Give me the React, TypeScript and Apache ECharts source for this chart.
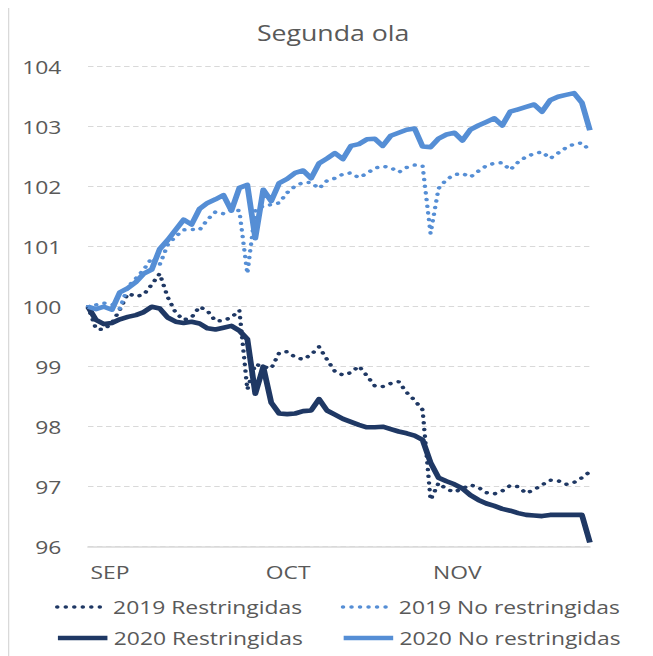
import React, { useEffect, useRef } from "react";
import * as echarts from "echarts";

// ---- Data (business days Sep 1 – Nov 30, 2020; Oct 12 holiday) ----
const START_DATE = "2020-09-01";
const END_DATE = "2020-11-30";
const HOLIDAYS = ["2020-10-12"];
const MONTH_LABELS: Record<number, string> = { 8: "SEP", 9: "OCT", 10: "NOV" };
const Y_MIN = 96;
const Y_MAX = 104;
const Y_STEP = 1;

const restr2019 = [
  100.0, 99.63, 99.62, 99.73, 99.95, 100.22, 100.17, 100.2, 100.37, 100.55,
  100.16, 99.9, 99.78, 99.82, 100.0, 99.93, 99.76, 99.77, 99.82, 99.94,
  98.62, 99.04, 99.0, 98.97, 99.23, 99.25, 99.16, 99.12, 99.2, 99.33,
  99.12, 98.92, 98.86, 98.9, 99.01, 98.85, 98.68, 98.67, 98.72, 98.75,
  98.57, 98.44, 98.28, 96.78, 97.06, 96.96, 96.91, 96.97, 97.03, 96.99,
  96.9, 96.88, 96.93, 97.02, 97.0, 96.89, 96.95, 97.03, 97.11, 97.1,
  97.04, 97.07, 97.15, 97.25,
];

const noRestr2019 = [
  100.0, 100.03, 100.06, 100.04, 99.97, 100.33, 100.47, 100.62, 100.81, 100.7,
  101.03, 101.17, 101.28, 101.29, 101.28, 101.45, 101.58, 101.55, 101.62, 101.6,
  100.55, 101.6, 101.68, 101.7, 101.73, 101.9, 102.01, 102.07, 102.07, 101.97,
  102.1, 102.14, 102.21, 102.23, 102.15, 102.22, 102.31, 102.34, 102.32, 102.24,
  102.32, 102.36, 102.35, 101.22, 101.97, 102.12, 102.2, 102.22, 102.16, 102.26,
  102.35, 102.39, 102.4, 102.28, 102.41, 102.5, 102.55, 102.58, 102.47, 102.56,
  102.65, 102.71, 102.73, 102.6,
];

const restr2020 = [
  100.0, 99.78, 99.71, 99.73, 99.79, 99.83, 99.86, 99.91, 100.0, 99.97,
  99.82, 99.75, 99.73, 99.75, 99.72, 99.64, 99.62, 99.65, 99.68, 99.6,
  99.46, 98.55, 99.0, 98.4, 98.22, 98.21, 98.22, 98.26, 98.27, 98.46,
  98.27, 98.2, 98.13, 98.08, 98.03, 97.99, 97.99, 98.0, 97.96, 97.92,
  97.89, 97.85, 97.78, 97.4, 97.15, 97.09, 97.04, 96.97, 96.86, 96.78,
  96.72, 96.68, 96.63, 96.6, 96.56, 96.53, 96.52, 96.51, 96.53, 96.53,
  96.53, 96.53, 96.53, 96.07,
];

const noRestr2020 = [
  100.0, 99.96, 100.0, 99.95, 100.24, 100.31, 100.41, 100.55, 100.62, 100.96,
  101.11, 101.28, 101.45, 101.37, 101.63, 101.73, 101.79, 101.86, 101.6, 101.98,
  102.03, 101.14, 101.95, 101.76, 102.06, 102.13, 102.23, 102.27, 102.14, 102.39,
  102.47, 102.56, 102.46, 102.68, 102.71, 102.79, 102.8, 102.68, 102.85, 102.9,
  102.95, 102.97, 102.67, 102.66, 102.8, 102.87, 102.9, 102.77, 102.95, 103.02,
  103.08, 103.14, 103.02, 103.25, 103.29, 103.33, 103.37, 103.25, 103.44, 103.5,
  103.53, 103.56, 103.4, 102.94,
];

const SERIES_NAMES = [
  "2019 Restringidas",
  "2019 No restringidas",
  "2020 Restringidas",
  "2020 No restringidas",
];

function businessDays(start: string, end: string, holidays: string[]): string[] {
  const out: string[] = [];
  const d = new Date(start + "T00:00:00Z");
  const e = new Date(end + "T00:00:00Z");
  while (d.getTime() <= e.getTime()) {
    const wd = d.getUTCDay();
    const iso = d.toISOString().slice(0, 10);
    if (wd !== 0 && wd !== 6 && !holidays.includes(iso)) out.push(iso);
    d.setUTCDate(d.getUTCDate() + 1);
  }
  return out;
}

const categories = businessDays(START_DATE, END_DATE, HOLIDAYS);

// ---- Layout ----
const SX = 1.27; // horizontal stretch of the reference picture
const W = 645;
const H = 648;
const IW = W / SX;

const DARK = "#1F3864";
const LIGHT = "#558ED5";
const TEXT = "#595959";
const GRID = "#D9D9D9";
const FONT = "Open Sans";
const DOTTED = [0.1, 6.6];
const DOT_W = 3.5;
const SOLID_W = 4.6;

export default function App() {
  const ref = useRef<HTMLDivElement>(null);

  useEffect(() => {
    if (!ref.current) return;
    const chart = echarts.init(ref.current, null, { renderer: "svg", width: IW, height: H });

    const isMonthStart = (i: number) => {
      if (i === 0) return true;
      return categories[i].slice(5, 7) !== categories[i - 1].slice(5, 7);
    };

    const legendBase = {
      orient: "horizontal",
      itemWidth: 39,
      itemHeight: 14,
      padding: 0,
      itemGap: 0,
      itemStyle: { opacity: 0, borderWidth: 0 },
      textStyle: { fontSize: 18, color: TEXT, fontFamily: FONT },
    };
    const dotLegend = { width: DOT_W, type: DOTTED, cap: "round" };
    const solidLegend = { width: SOLID_W, type: "solid", cap: "butt" };

    chart.setOption({
      animation: false,
      title: {
        text: "Segunda ola",
        left: 256,
        textAlign: "center",
        top: 14,
        padding: 0,
        textStyle: { fontSize: 21, fontWeight: "normal", color: TEXT, fontFamily: FONT },
      },
      legend: [
        { ...legendBase, lineStyle: dotLegend, data: [SERIES_NAMES[0]], left: 37, top: 590 },
        { ...legendBase, lineStyle: dotLegend, data: [SERIES_NAMES[1]], left: 262, top: 590 },
        { ...legendBase, lineStyle: solidLegend, data: [SERIES_NAMES[2]], left: 37, top: 621 },
        { ...legendBase, lineStyle: solidLegend, data: [SERIES_NAMES[3]], left: 262, top: 621 },
      ],
      grid: { left: 63, right: 49.7, top: 58.7, bottom: 109.3, containLabel: false },
      xAxis: {
        type: "category",
        data: categories,
        boundaryGap: false,
        axisLine: { show: true, lineStyle: { color: GRID, width: 1.5 } },
        axisTick: { show: false },
        splitLine: { show: false },
        axisLabel: {
          interval: (i: number) => isMonthStart(i),
          formatter: (v: string) => MONTH_LABELS[Number(v.slice(5, 7)) - 1] ?? "",
          align: "left",
          padding: [0, 0, 0, 2],
          margin: 16,
          fontSize: 18,
          color: TEXT,
          fontFamily: FONT,
        },
      },
      yAxis: {
        type: "value",
        min: Y_MIN,
        max: Y_MAX,
        interval: Y_STEP,
        axisLine: { show: false },
        axisTick: { show: false },
        axisLabel: { margin: 21, fontSize: 18, color: TEXT, fontFamily: FONT },
        splitLine: { show: true, lineStyle: { color: GRID, width: 1.2, type: [4.3, 2.8] } },
      },
      graphic: [
        {
          type: "line",
          shape: { x1: 0.5, y1: 0, x2: 0.5, y2: H },
          style: { stroke: GRID, lineWidth: 1 },
        },
      ],
      series: [
        {
          name: SERIES_NAMES[0],
          type: "line",
          data: restr2019,
          symbol: "none",
          lineStyle: { color: DARK, width: DOT_W, type: DOTTED, cap: "round" },
          itemStyle: { color: DARK },
        },
        {
          name: SERIES_NAMES[1],
          type: "line",
          data: noRestr2019,
          symbol: "none",
          lineStyle: { color: LIGHT, width: DOT_W, type: DOTTED, cap: "round" },
          itemStyle: { color: LIGHT },
        },
        {
          name: SERIES_NAMES[2],
          type: "line",
          data: restr2020,
          symbol: "none",
          lineStyle: { color: DARK, width: SOLID_W, join: "round" },
          itemStyle: { color: DARK },
        },
        {
          name: SERIES_NAMES[3],
          type: "line",
          data: noRestr2020,
          symbol: "none",
          lineStyle: { color: LIGHT, width: SOLID_W, join: "round" },
          itemStyle: { color: LIGHT },
        },
      ],
    });

    return () => chart.dispose();
  }, []);

  return (
    <div
      style={{
        position: "fixed",
        left: 8,
        top: 8,
        width: W,
        height: H,
        overflow: "hidden",
        background: "#fff",
      }}
    >
      <div
        ref={ref}
        style={{ width: IW, height: H, transform: `scaleX(${SX})`, transformOrigin: "0 0" }}
      />
    </div>
  );
}
